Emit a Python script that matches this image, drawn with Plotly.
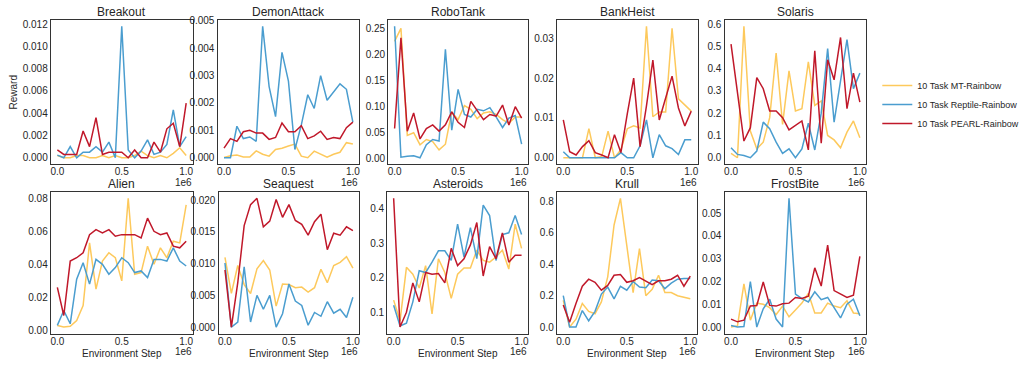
import plotly.graph_objects as go
from plotly.subplots import make_subplots

W, H = 1027, 366

steps = [i * 50000 for i in range(21)]
series_names = ["10 Task MT-Rainbow", "10 Task Reptile-Rainbow", "10 Task PEARL-Rainbow"]
series_colors = ["#fdc95c", "#4a9dcf", "#c0182a"]

games = ["Breakout", "DemonAttack", "RoboTank", "BankHeist", "Solaris",
         "Alien", "Seaquest", "Asteroids", "Krull", "FrostBite"]

# ---- data (MT, Reptile, PEARL) ----
breakout_mt = [0.0002, 0.0, 0.0, 0.0002, 0.0002, 0.0, 0.0, 0.0002, 0.0, 0.0002, 0.0,
               0.0, 0.0002, 0.0006, 0.0002, 0.0, 0.0002, 0.0, 0.0004, 0.0009, 0.0002]
breakout_reptile = [0.00024, 0.0, 0.001, 0.0, 0.0005, 0.0005, 0.001, 0.0005, 0.0014, 0.0, 0.0118,
                    0.0007, 0.0, 0.0006, 0.0016, 0.0003, 0.0005, 0.0012, 0.0043, 0.001, 0.0019]
breakout_pearl = [0.0007, 0.0003, 0.0003, 0.0003, 0.0024, 0.001, 0.0036, 0.0003, 0.0005, 0.0005, 0.0005,
                  0.0, 0.0007, 0.0, 0.0, 0.0014, 0.0005, 0.0026, 0.0031, 0.001, 0.0049]

demon_mt = [0.00001, 0.00007, 0.0001, 0.00003, 0.00003, 0.00025, 0.00013, 0.00006, 0.0003, 0.00035, 0.00043,
            0.0005, 0.00006, 0.0, 0.00024, 0.00013, 0.00002, 0.00013, 0.0002, 0.00055, 0.0005]
demon_reptile = [0.0, 0.0, 0.00115, 0.0007, 0.00076, 0.0006, 0.0048, 0.0026, 0.0015, 0.00385, 0.0028,
                 0.0003, 0.0012, 0.0023, 0.0018, 0.003, 0.0021, 0.0024, 0.0027, 0.0025, 0.0013]
demon_pearl = [0.00035, 0.0007, 0.0006, 0.00095, 0.001, 0.0009, 0.0009, 0.00067, 0.00074, 0.00127, 0.00095,
               0.00095, 0.00117, 0.0007, 0.0008, 0.00097, 0.00067, 0.00074, 0.0007, 0.0011, 0.0013]

robo_mt = [0.225, 0.25, 0.045, 0.05, 0.027, 0.037, 0.033, 0.017, 0.028, 0.09, 0.075,
           0.102, 0.095, 0.077, 0.088, 0.09, 0.085, 0.075, 0.068, 0.08, 0.08]
robo_reptile = [0.254, 0.003, 0.005, 0.006, 0.002, 0.027, 0.037, 0.034, 0.21, 0.055, 0.133,
                0.085, 0.08, 0.095, 0.092, 0.098, 0.08, 0.06, 0.078, 0.083, 0.028]
robo_pearl = [0.058, 0.232, 0.053, 0.088, 0.038, 0.058, 0.065, 0.053, 0.065, 0.09, 0.07,
              0.06, 0.11, 0.092, 0.075, 0.085, 0.082, 0.103, 0.065, 0.1, 0.078]

bank_mt = [0.0, 0.0, 0.0, 0.0, 0.0073, 0.0, 0.0003, 0.0067, 0.0, 0.002, 0.0073,
           0.008, 0.0075, 0.033, 0.0103, 0.0115, 0.0115, 0.0325, 0.0148, 0.0132, 0.0117]
bank_reptile = [0.0015, 0.0, 0.0, 0.0, 0.0, 0.0, 0.0, 0.0, 0.0, 0.0013, 0.0,
                0.0, 0.003, 0.0095, 0.0, 0.0058, 0.003, 0.0023, 0.0008, 0.0045, 0.0045]
bank_pearl = [0.0095, 0.0015, 0.0007, 0.0028, 0.0043, 0.0013, 0.0007, 0.0, 0.0058, 0.0013, 0.011,
              0.02, 0.0028, 0.013, 0.0245, 0.0095, 0.015, 0.0205, 0.0125, 0.008, 0.0117]

solaris_mt = [0.02, 0.0, 0.59, 0.12, 0.04, 0.07, 0.18, 0.47, 0.15, 0.39, 0.21,
              0.22, 0.43, 0.235, 0.255, 0.1, 0.08, 0.045, 0.115, 0.165, 0.09]
solaris_reptile = [0.045, 0.015, 0.01, 0.0, 0.03, 0.16, 0.13, 0.07, 0.02, 0.04, 0.0,
                   0.04, 0.155, 0.035, 0.2, 0.49, 0.16, 0.34, 0.53, 0.31, 0.38]
solaris_pearl = [0.51, 0.3, 0.075, 0.135, 0.36, 0.31, 0.21, 0.21, 0.18, 0.125, 0.145,
                 0.165, 0.035, 0.48, 0.065, 0.44, 0.35, 0.54, 0.22, 0.38, 0.25]

alien_mt = [0.003, 0.002, 0.0025, 0.006, 0.015, 0.053, 0.025, 0.042, 0.047, 0.044, 0.03,
            0.08, 0.034, 0.035, 0.051, 0.04, 0.05, 0.044, 0.054, 0.053, 0.076]
alien_reptile = [0.003, 0.012, 0.004, 0.031, 0.041, 0.028, 0.043, 0.04, 0.034, 0.038, 0.044,
                 0.041, 0.035, 0.036, 0.032, 0.043, 0.043, 0.042, 0.05, 0.042, 0.039]
alien_pearl = [0.026, 0.009, 0.042, 0.044, 0.047, 0.058, 0.061, 0.059, 0.061, 0.057, 0.058,
               0.058, 0.058, 0.056, 0.068, 0.06, 0.058, 0.059, 0.051, 0.05, 0.054]

sea_mt = [0.011, 0.0053, 0.0097, 0.0067, 0.0053, 0.0092, 0.0105, 0.009, 0.0033, 0.0068, 0.0067,
          0.0062, 0.0063, 0.0055, 0.0062, 0.0091, 0.007, 0.0097, 0.0102, 0.0111, 0.0093]
sea_reptile = [0.0101, 0.0, 0.0008, 0.0095, 0.0008, 0.005, 0.0028, 0.005, 0.0, 0.0021, 0.0068,
               0.0041, 0.0034, 0.0003, 0.0023, 0.0017, 0.004, 0.0022, 0.0028, 0.0015, 0.0047]
sea_pearl = [0.009, 0.0, 0.007, 0.016, 0.0193, 0.0203, 0.0158, 0.0167, 0.0201, 0.0173, 0.0193,
             0.0168, 0.0162, 0.0145, 0.0166, 0.0178, 0.0122, 0.0148, 0.0145, 0.0158, 0.0152]

ast_mt = [0.135, 0.075, 0.23, 0.21, 0.17, 0.235, 0.095, 0.255, 0.215, 0.14, 0.21,
          0.228, 0.228, 0.28, 0.25, 0.245, 0.26, 0.28, 0.225, 0.355, 0.285]
ast_reptile = [0.12, 0.06, 0.068, 0.13, 0.22, 0.215, 0.245, 0.278, 0.278, 0.25, 0.355,
               0.26, 0.345, 0.255, 0.41, 0.38, 0.25, 0.325, 0.33, 0.38, 0.325]
ast_pearl = [0.43, 0.057, 0.1, 0.185, 0.13, 0.215, 0.21, 0.212, 0.185, 0.285, 0.235,
             0.255, 0.295, 0.36, 0.205, 0.29, 0.255, 0.33, 0.245, 0.265, 0.265]

krull_mt = [0.17, 0.0, 0.05, 0.15, 0.1, 0.085, 0.16, 0.32, 0.65, 0.82, 0.52,
            0.22, 0.5, 0.2, 0.24, 0.33, 0.22, 0.22, 0.2, 0.19, 0.18]
krull_reptile = [0.2, 0.0, 0.0, 0.105, 0.04, 0.1, 0.21, 0.255, 0.18, 0.26, 0.235,
                 0.29, 0.255, 0.25, 0.3, 0.295, 0.245, 0.28, 0.305, 0.31, 0.31]
krull_pearl = [0.14, 0.03, 0.15, 0.26, 0.305, 0.285, 0.235, 0.265, 0.33, 0.335, 0.285,
               0.295, 0.315, 0.29, 0.27, 0.295, 0.295, 0.305, 0.33, 0.26, 0.325]

frost_mt = [0.0, 0.0005, 0.019, 0.003, 0.0105, 0.01, 0.0085, 0.0055, 0.0092, 0.0045, 0.0075,
            0.0105, 0.0148, 0.0062, 0.0062, 0.0105, 0.0092, 0.0085, 0.0115, 0.0062, 0.0058]
frost_reptile = [0.0007, 0.0, 0.0002, 0.02, 0.0, 0.008, 0.0122, 0.0035, 0.0, 0.0565, 0.0145,
                 0.0125, 0.011, 0.0155, 0.012, 0.013, 0.0085, 0.004, 0.01, 0.0122, 0.005]
frost_pearl = [0.0035, 0.0023, 0.003, 0.0093, 0.0095, 0.0198, 0.0095, 0.0092, 0.0102, 0.0105, 0.013,
               0.0125, 0.0135, 0.026, 0.018, 0.036, 0.016, 0.0145, 0.013, 0.014, 0.031]

game_data = [
    (breakout_mt, breakout_reptile, breakout_pearl),
    (demon_mt, demon_reptile, demon_pearl),
    (robo_mt, robo_reptile, robo_pearl),
    (bank_mt, bank_reptile, bank_pearl),
    (solaris_mt, solaris_reptile, solaris_pearl),
    (alien_mt, alien_reptile, alien_pearl),
    (sea_mt, sea_reptile, sea_pearl),
    (ast_mt, ast_reptile, ast_pearl),
    (krull_mt, krull_reptile, krull_pearl),
    (frost_mt, frost_reptile, frost_pearl),
]

y_ticks = [
    [0.000, 0.002, 0.004, 0.006, 0.008, 0.010, 0.012],
    [0.000, 0.001, 0.002, 0.003, 0.004, 0.005],
    [0.00, 0.05, 0.10, 0.15, 0.20, 0.25],
    [0.00, 0.01, 0.02, 0.03],
    [0.0, 0.1, 0.2, 0.3, 0.4, 0.5, 0.6],
    [0.00, 0.02, 0.04, 0.06, 0.08],
    [0.000, 0.005, 0.010, 0.015, 0.020],
    [0.1, 0.2, 0.3, 0.4],
    [0.0, 0.2, 0.4, 0.6, 0.8],
    [0.00, 0.01, 0.02, 0.03, 0.04, 0.05],
]
y_fmt = [".3f", ".3f", ".2f", ".2f", ".1f", ".2f", ".3f", ".1f", ".1f", ".2f"]
x_ticks = [0, 500000, 1000000]
x_ticklabels = ["0.0", "0.5", "1.0"]

# ---- layout geometry (pixels) ----
boxes = [
    (50, 192, 16, 163), (217, 359, 16, 163), (388, 528, 16, 163), (557, 698, 16, 163), (725, 867, 16, 163),
    (50, 192, 191, 335), (218, 359, 191, 335), (387, 528, 191, 335), (557, 697, 191, 335), (725, 867, 191, 335),
]

FONT = "Liberation Sans, Arial, sans-serif"
TXT = "#262626"

fig = make_subplots(rows=2, cols=5)

annotations = []
for k, (name, data) in enumerate(zip(games, game_data)):
    r, c = k // 5 + 1, k % 5 + 1
    for s, (sname, col) in enumerate(zip(series_names, series_colors)):
        fig.add_trace(go.Scatter(
            x=steps, y=data[s], mode="lines", name=sname,
            line=dict(color=col, width=1.5),
            legendgroup=sname, showlegend=(k == 0),
        ), row=r, col=c)
    allv = [v for d in data for v in d]
    lo, hi = min(allv), max(allv)
    pad = 0.05 * (hi - lo)
    x0, x1, y0, y1 = boxes[k]
    xa = "xaxis" if k == 0 else f"xaxis{k+1}"
    ya = "yaxis" if k == 0 else f"yaxis{k+1}"
    fig.layout[xa].update(
        domain=[x0 / W, x1 / W], range=[-50000, 1050000],
        tickvals=x_ticks, ticktext=x_ticklabels,
        showgrid=False, zeroline=False, showline=True, mirror=True,
        linecolor="#333333", linewidth=1.3, ticks="",
        ticklabelstandoff=-2,
        tickfont=dict(family=FONT, size=10, color=TXT),
    )
    fig.layout[ya].update(
        domain=[1 - y1 / H, 1 - y0 / H], range=[lo - pad, hi + pad],
        tickvals=y_ticks[k], tickformat=y_fmt[k],
        showgrid=False, zeroline=False, showline=True, mirror=True,
        linecolor="#333333", linewidth=1.3, ticks="",
        tickfont=dict(family=FONT, size=10, color=TXT),
    )
    # subplot title
    annotations.append(dict(
        text=name, xref="paper", yref="paper", x=(x0 + x1) / 2 / W, y=1 - (y0 - 7.5) / H,
        xanchor="center", yanchor="middle", showarrow=False, borderpad=0,
        font=dict(family=FONT, size=12, color=TXT),
    ))
    # offset text
    annotations.append(dict(
        text="1e6", xref="paper", yref="paper", x=x1 / W, y=1 - (y1 + 18) / H,
        xanchor="right", yanchor="middle", showarrow=False, borderpad=0,
        font=dict(family=FONT, size=10, color=TXT),
    ))
    if r == 2:
        annotations.append(dict(
            text="Environment Step", xref="paper", yref="paper", x=(x0 + x1) / 2 / W, y=1 - 355 / H,
            xanchor="center", yanchor="middle", showarrow=False, borderpad=0,
            font=dict(family=FONT, size=10, color=TXT),
        ))

annotations.append(dict(
    text="Reward", xref="paper", yref="paper", x=13 / W, y=1 - 90 / H,
    xanchor="center", yanchor="middle", textangle=-90, showarrow=False,
    font=dict(family=FONT, size=10, color=TXT),
))

fig.update_layout(
    width=W, height=H,
    margin=dict(l=0, r=0, t=0, b=0),
    paper_bgcolor="white", plot_bgcolor="white",
    annotations=annotations,
    legend=dict(
        x=878 / W, y=1 - 68 / H, xanchor="left", yanchor="top",
        font=dict(family=FONT, size=9, color=TXT),
        bgcolor="rgba(0,0,0,0)", tracegroupgap=0, itemwidth=30,
    ),
)

fig.write_html("out.html", config={"displayModeBar": False},
               post_script="document.body.style.margin='0px';")
